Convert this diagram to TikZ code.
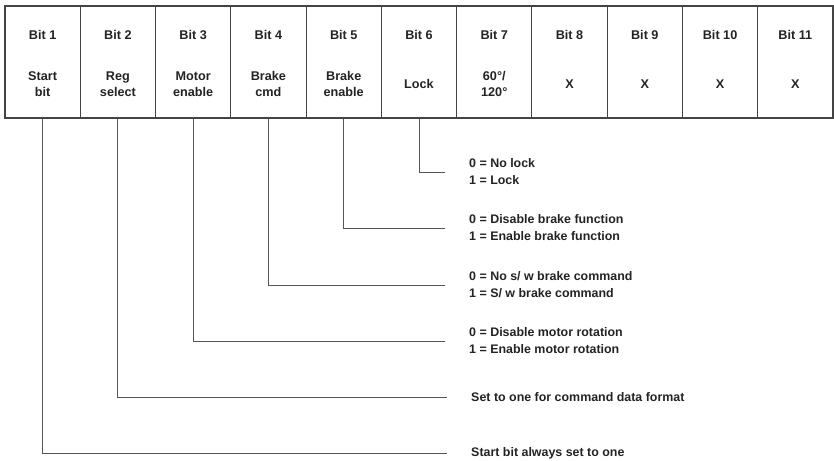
\documentclass[tikz,border=0pt]{standalone}
\usepackage{fontspec}
\setmainfont{Liberation Sans}
\usetikzlibrary{positioning}
\definecolor{ink}{RGB}{35,35,35}
\definecolor{wire}{RGB}{85,85,85}
\tikzset{
  bitbox/.style={draw=ink!85,line width=0.9pt,minimum width=22.58mm,minimum height=33.6mm,inner sep=0pt},
  bittext/.style={font=\fontsize{10.8}{13.7}\selectfont\bfseries,text=ink,align=center,inner sep=0pt},
  note/.style={font=\fontsize{10.6}{14.5}\selectfont\bfseries,text=ink,align=left,anchor=west,inner sep=0pt},
  wire/.style={draw=wire,line width=0.8pt,shorten >=7.2mm},
}

\begin{document}
\begin{tikzpicture}[x=0.3mm,y=-0.3mm]
  \useasboundingbox (0,0) rectangle (834,460);
  % command word
  \foreach \i/\lab in {1/{Start\\bit},2/{Reg\\select},3/{Motor\\enable},4/{Brake\\cmd},5/{Brake\\enable},
      6/Lock,7/{60°/\\120°},8/X,9/X,10/X,11/X}{
    \node[bitbox] (bit\i) at ({5+75.27*(\i-0.5)},62) {};
    \node[bittext] at ({5+75.27*(\i-0.5)},35) {Bit \i};
    \node[bittext] at ({5+75.27*(\i-0.5)},84) {\lab};
  }
  % meanings
  \node[note] (d6) at (469,172) {0 = No lock\\1 = Lock};
  \node[note] (d5) at (469,228) {0 = Disable brake function\\1 = Enable brake function};
  \node[note] (d4) at (469,285) {0 = No s/ w brake command\\1 = S/ w brake command};
  \node[note] (d3) at (469,341) {0 = Disable motor rotation\\1 = Enable motor rotation};
  \node[note] (d2) at (471,397) {Set to one for command data format};
  \node[note] (d1) at (471,453) {Start bit always set to one};
  \foreach \i in {1,...,6} \draw[wire] (bit\i.south) |- (d\i.west);
\end{tikzpicture}
\end{document}
